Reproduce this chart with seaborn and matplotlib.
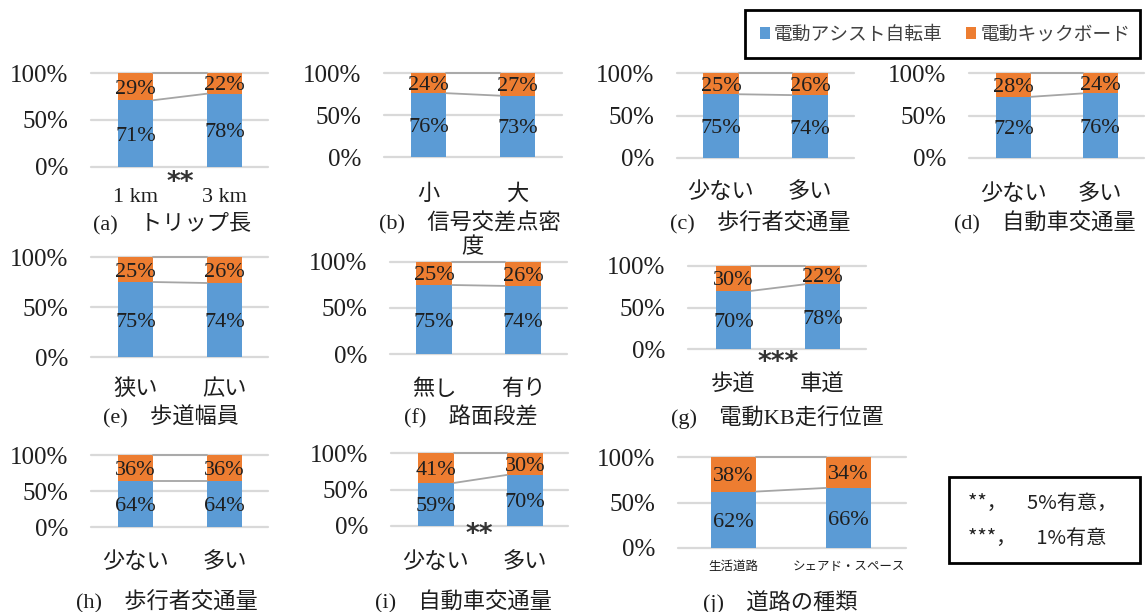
import matplotlib
matplotlib.use("Agg")
import matplotlib.pyplot as plt
import seaborn as sns
import pandas as pd
from matplotlib.patches import Rectangle, Patch

# ---------------- data ----------------
series_names = ["電動アシスト自転車", "電動キックボード"]
panel_titles = ["(a)　トリップ長", "(b)　信号交差点密度", "(c)　歩行者交通量", "(d)　自動車交通量",
                "(e)　歩道幅員", "(f)　路面段差", "(g)　電動KB走行位置",
                "(h)　歩行者交通量", "(i)　自動車交通量", "(j)　道路の種類"]
categories = [["1 km", "3 km"], ["小", "大"], ["少ない", "多い"], ["少ない", "多い"],
              ["狭い", "広い"], ["無し", "有り"], ["歩道", "車道"],
              ["少ない", "多い"], ["少ない", "多い"], ["生活道路", "シェアド・スペース"]]
assist_share = [[71, 78], [76, 73], [75, 74], [72, 76], [75, 74], [75, 74], [70, 78],
                [64, 64], [59, 70], [62, 66]]
kick_share = [[29, 22], [24, 27], [25, 26], [28, 24], [25, 26], [25, 26], [30, 22],
              [36, 36], [41, 30], [38, 34]]
significance = ["**", "", "", "", "", "", "***", "", "**", ""]
y_ticks = [0, 50, 100]
y_tick_labels = ["0%", "50%", "100%"]
note_lines = ["**，　5%有意，", "***，　1%有意"]

# ---------------- layout (pixels) ----------------
W, H = 1146, 612
# x0, x1, ytop, ybot, c0, c1, barwidth, cat_y, title_x, title_y, star_x, star_y, cat_size, wrap
layout = [
    (91, 268, 73, 167, 135.5, 224.5, 35, 198, 172, 223, 180, 175, 16, None),
    (384, 562, 73, 157, 428.5, 517.5, 35, 195, 470, 223, None, None, 16, 10),
    (677, 854, 73, 158, 721, 810, 36, 193, 760, 223, None, None, 16, None),
    (969, 1144, 73, 158, 1013.5, 1100, 35, 195, 1045, 223, None, None, 16, None),
    (91, 268, 257, 357, 135.5, 224.5, 35, 390, 171, 417, None, None, 16, None),
    (390, 567, 262, 354, 434, 523, 36, 390, 471, 417, None, None, 16, None),
    (688, 866, 266, 349, 733.5, 822.5, 35, 385, 777, 417, 778, 355, 16, None),
    (91, 268, 455, 527, 135.5, 224.5, 35, 563, 167, 602, None, None, 16, None),
    (391, 568, 453, 526, 436, 525, 36, 563, 463, 602, 479, 527, 16, None),
    (678, 906, 457, 548, 733.5, 848.5, 45, 567, 780, 602, None, None, 9, None),
]

BLUE = "#5B9BD5"
ORANGE = "#ED7D31"
GRID = "#D9D9D9"
CONN = "#A5A5A5"
TXT = "#1E1E1E"

sns.set_theme(style="white")
plt.rcParams["font.family"] = ["Liberation Serif", "Noto Sans CJK JP", "DejaVu Sans"]

fig = plt.figure(figsize=(W / 100, H / 100), dpi=100)
PT = 100 / 72.0

for idx in range(len(panel_titles)):
    x0, x1, yt, yb, c0, c1, bwpx, cat_y, tx, ty, sx, sy, csize, wrap = layout[idx]
    ax = fig.add_axes([x0 / W, 1 - yb / H, (x1 - x0) / W, (yb - yt) / H])
    unit = c1 - c0
    w = bwpx / unit
    cats = categories[idx]
    df = pd.DataFrame({"cat": cats, "assist": assist_share[idx], "kick": kick_share[idx]})
    df["total"] = df["assist"] + df["kick"]
    sns.barplot(data=df, x="cat", y="total", order=cats, color=ORANGE, saturation=1,
                width=w, errorbar=None, linewidth=0, ax=ax, zorder=2)
    sns.barplot(data=df, x="cat", y="assist", order=cats, color=BLUE, saturation=1,
                width=w, errorbar=None, linewidth=0, ax=ax, zorder=3)
    ax.set_xlim((x0 - c0) / unit, (x1 - c0) / unit)
    ax.set_ylim(0, 100)
    ax.set_xlabel("")
    ax.set_ylabel("")
    for s in ax.spines.values():
        s.set_visible(False)
    ax.set_yticks(y_ticks)
    ax.set_yticklabels(y_tick_labels)
    ax.yaxis.grid(True, color=GRID, linewidth=1.6)
    ax.xaxis.grid(False)
    ax.set_axisbelow(True)
    for gl in ax.get_ygridlines():
        gl.set_clip_on(False)
    ax.tick_params(axis="y", length=0, pad=16.5, labelsize=18, labelcolor=TXT)
    ax.set_xticks([0, 1])
    ax.set_xticklabels(cats)
    ax.tick_params(axis="x", length=0, pad=(cat_y - yb) / PT, labelsize=csize, labelcolor=TXT)
    for lab in ax.get_xticklabels():
        lab.set_va("center")
    # series lines
    ax.plot([w / 2, 1 - w / 2], df["assist"].tolist(), color=CONN, lw=1.3, zorder=4, clip_on=False)
    ax.plot([w / 2, 1 - w / 2], df["total"].tolist(), color=CONN, lw=1.3, zorder=4, clip_on=False)
    # value labels
    for i, (a, k) in enumerate(zip(df["assist"], df["kick"])):
        ax.text(i, a / 2, f"{a}%", ha="center", va="center_baseline", fontsize=16, color=TXT, zorder=5)
        ax.text(i, a + k / 2, f"{k}%", ha="center", va="center_baseline", fontsize=16, color=TXT, zorder=5)
    # title
    title = panel_titles[idx]
    if wrap:
        fig.text(tx / W, 1 - ty / H, title[:wrap], ha="center", va="center", fontsize=16, color=TXT)
        fig.text((tx + 2) / W, 1 - (ty + 25) / H, title[wrap:], ha="center", va="center",
                 fontsize=16, color=TXT)
    else:
        fig.text(tx / W, 1 - ty / H, title, ha="center", va="center", fontsize=16, color=TXT)
    # significance stars
    if significance[idx]:
        fig.text(sx / W, 1 - (sy + 15) / H, significance[idx], ha="center", va="baseline",
                 fontsize=19, fontweight="bold", family="DejaVu Sans", color="#333333")

# legend
fig.patches.append(Rectangle((745 / W, 1 - 58 / H), 395 / W, 48 / H, transform=fig.transFigure,
                             fill=False, edgecolor="black", linewidth=2))
handles = [Patch(facecolor=BLUE, edgecolor="none"), Patch(facecolor=ORANGE, edgecolor="none")]
fig.legend(handles, series_names, loc="center", bbox_to_anchor=(945 / W, 1 - 34 / H), ncol=2,
           frameon=False, handlelength=0.55, handleheight=0.55, handletextpad=0.2,
           columnspacing=1.25, borderaxespad=0, borderpad=0,
           prop={"family": ["Noto Sans CJK JP", "DejaVu Sans"], "size": 13.5}, labelcolor="#404040")

# significance note box
fig.patches.append(Rectangle((949 / W, 1 - 563 / H), 191 / W, 86 / H, transform=fig.transFigure,
                             fill=False, edgecolor="black", linewidth=2))
fig.text(968 / W, 1 - 503 / H, note_lines[0], ha="left", va="center", fontsize=14.5,
         family=["Noto Sans CJK JP", "DejaVu Sans"], color="#222222")
fig.text(968 / W, 1 - 538 / H, note_lines[1], ha="left", va="center", fontsize=14.5,
         family=["Noto Sans CJK JP", "DejaVu Sans"], color="#222222")

fig.savefig("out.png", dpi=100)
